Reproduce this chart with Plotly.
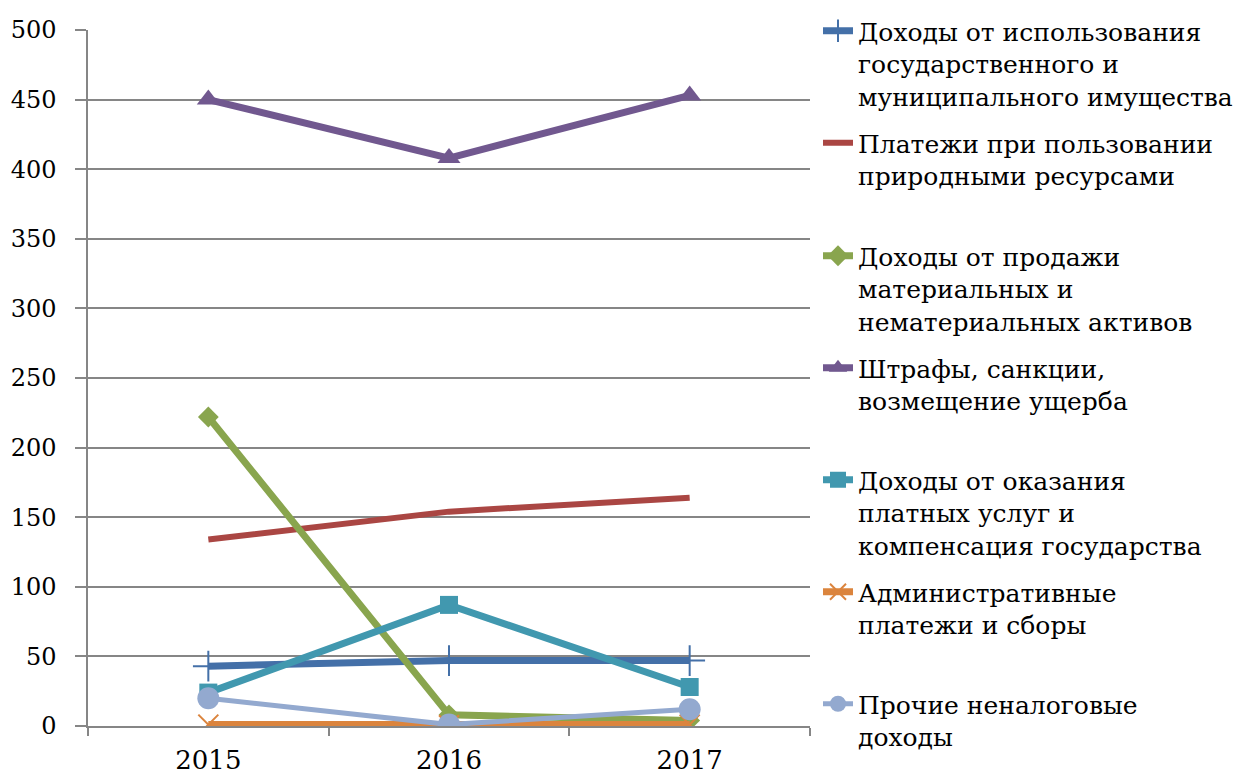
import plotly.graph_objects as go

years = ["2015", "2016", "2017"]

names = [
    "Доходы от использования<br>государственного и<br>муниципального имущества",
    "Платежи при пользовании<br>природными ресурсами",
    "Доходы от продажи<br>материальных и<br>нематериальных активов",
    "Штрафы, санкции,<br>возмещение ущерба",
    "Доходы от оказания<br>платных услуг и<br>компенсация государства",
    "Административные<br>платежи и сборы",
    "Прочие неналоговые<br>доходы",
]

imushchestvo = [43, 47, 47]
prirodnye = [134, 154, 164]
prodazha = [222, 8, 4]
shtrafy = [450, 408, 453]
uslugi = [24, 87, 28]
administrativnye = [1, 0.5, 1]
prochie = [20, 1, 12]

series = [imushchestvo, prirodnye, prodazha, shtrafy, uslugi, administrativnye, prochie]
colors = ["#4470A8", "#AA4643", "#89A54E", "#71588F", "#4198AF", "#DB843D", "#93A9CF"]
widths = [7, 6, 7, 7, 7, 7, 5]
markers = [
    dict(symbol="cross-thin", size=22, line=dict(width=2, color="#4470A8")),
    None,
    dict(symbol="diamond", size=16, color="#89A54E"),
    dict(symbol="triangle-up", size=20, color="#71588F"),
    dict(symbol="square", size=18, color="#4198AF"),
    dict(symbol="x-thin", size=20, line=dict(width=2, color="#DB843D")),
    dict(symbol="circle", size=22, color="#93A9CF"),
]

legend_ids = ["legend", "legend2", "legend3", "legend4", "legend5", "legend6", "legend7"]
entry_centres = [31, 143, 256, 368, 480, 592, 704]

fig = go.Figure()
for name, vals, col, w, m, lid in zip(names, series, colors, widths, markers, legend_ids):
    kw = dict(x=years, y=vals, name=name, line=dict(color=col, width=w), legend=lid)
    if m is None:
        fig.add_trace(go.Scatter(mode="lines", **kw))
    else:
        fig.add_trace(go.Scatter(mode="lines+markers", marker=m, **kw))

W, H = 1248, 775
plot_top, plot_bottom = 30, 726
serif = "DejaVu Serif"

layout_legends = {}
for lid, c in zip(legend_ids, entry_centres):
    top_px = c - 23
    layout_legends[lid] = dict(
        xref="container", yref="container",
        x=818 / W, xanchor="left", y=1 - top_px / H, yanchor="top",
        font=dict(family=serif, size=25, color="black"),
        valign="top", bgcolor="rgba(0,0,0,0)", borderwidth=0,
    )

fig.update_layout(
    width=W, height=H,
    margin=dict(l=88, r=W - 810, t=plot_top, b=H - plot_bottom, autoexpand=False),
    paper_bgcolor="white", plot_bgcolor="white",
    font=dict(family=serif, size=25, color="black"),
    showlegend=True,
    xaxis=dict(type="category", range=[-0.5, 2.5], showgrid=False,
               showline=True, linecolor="#868686", linewidth=1.5,
               ticks="outside", tickson="boundaries", ticklen=8,
               tickcolor="#868686", tickwidth=1.5,
               tickfont=dict(family=serif, size=26), ticklabelstandoff=10),
    yaxis=dict(range=[0, 500], dtick=50, tick0=0, showgrid=True,
               gridcolor="#868686", gridwidth=1.5,
               showline=True, linecolor="#868686", linewidth=1.5,
               ticks="outside", ticklen=11, tickcolor="#868686", tickwidth=1.5,
               zeroline=False,
               tickfont=dict(family=serif, size=24), ticklabelstandoff=14),
    **layout_legends,
)

fig.write_html("out.html")
